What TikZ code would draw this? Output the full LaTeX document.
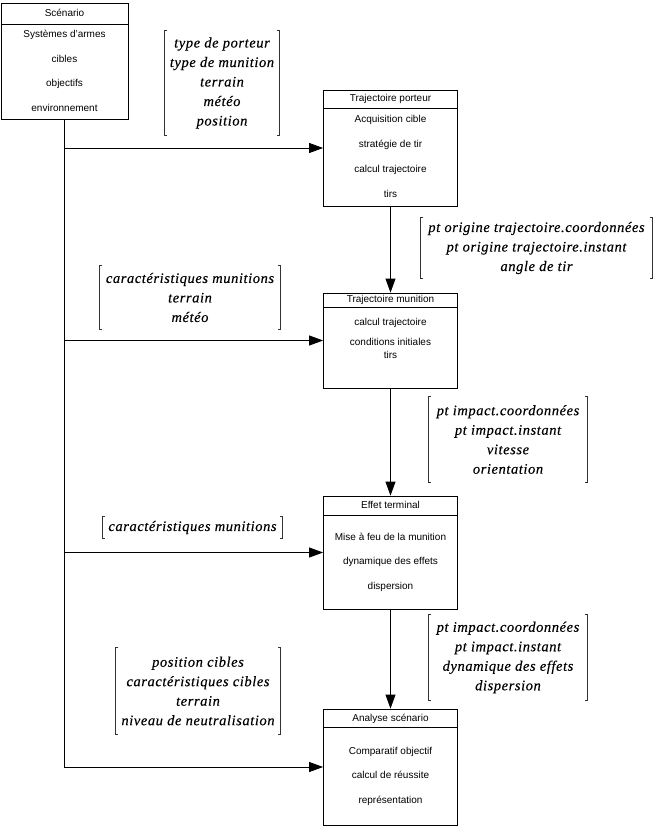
\documentclass[tikz,border=0pt]{standalone}
\usepackage{fontspec}
\setmainfont{Liberation Serif}
\setsansfont{Liberation Sans}
\newfontfamily\labfont[LetterSpace=4, FakeBold=0.3]{Liberation Serif}
\usetikzlibrary{arrows.meta}
\tikzset{
  box/.style={draw=black, line width=0.8pt, rectangle, inner sep=0pt},
  itm/.style={font=\sffamily\fontsize{10}{12}\selectfont, inner sep=0pt, text height=7.5pt, text depth=2pt},
  lab/.style={font=\labfont\itshape\fontsize{14.5}{19.5}\selectfont, align=center, inner sep=0pt},
  bline/.style={line width=0.8pt, black!80},
  conn/.style={line width=0.8pt, -{Triangle[length=14pt,width=10pt]}},
  plain/.style={line width=0.8pt}
}
\newcommand\lbrk[1]{%
  \draw[bline] ([xshift=2.5pt]#1.north west) -- (#1.north west) -- (#1.south west) -- ([xshift=2.5pt]#1.south west);
  \draw[bline] ([xshift=-2.5pt]#1.north east) -- (#1.north east) -- (#1.south east) -- ([xshift=-2.5pt]#1.south east);}
\newcommand\sepline[2]{%
  \draw[plain] ([yshift=-#2pt]#1.north west) -- ([yshift=-#2pt]#1.north east);}
\begin{document}
\begin{tikzpicture}[x=1pt,y=-1pt]
\useasboundingbox (0,0) rectangle (657,826);

% Scenario
\node[box, minimum width=127pt, minimum height=116pt] (scen) at (64.5,61) {};
\sepline{scen}{22}
\node[itm] (scenT) at (64.5,14) {Scénario};
\node[itm] (s1) at (64.5,35) {Systèmes d'armes};
\node[itm] (s2) at (64.5,60) {cibles};
\node[itm] (s3) at (64.5,84) {objectifs};
\node[itm] (s4) at (64.5,109) {environnement};

% Trajectoire porteur
\node[box, minimum width=134pt, minimum height=116pt] (tp) at (390.5,148) {};
\sepline{tp}{19}
\node[itm] (tpT) at (390.5,99) {Trajectoire porteur};
\node[itm] (tp1) at (390.5,120) {Acquisition cible};
\node[itm] (tp2) at (390.5,145) {stratégie de tir};
\node[itm] (tp3) at (390.5,170) {calcul trajectoire};
\node[itm] (tp4) at (390.5,195) {tirs};

% Trajectoire munition
\node[box, minimum width=134pt, minimum height=95pt] (tm) at (390.5,340.5) {};
\sepline{tm}{15}
\node[itm] (tmT) at (390.5,300) {Trajectoire munition};
\node[itm] (tm1) at (390.5,323) {calcul trajectoire};
\node[itm] (tm2) at (390.5,343) {conditions initiales};
\node[itm] (tm3) at (390.5,356) {tirs};

% Effet terminal
\node[box, minimum width=134pt, minimum height=113pt] (et) at (390.5,552.5) {};
\sepline{et}{20}
\node[itm] (etT) at (390.5,506) {Effet terminal};
\node[itm] (et1) at (390.5,538) {Mise à feu de la munition};
\node[itm] (et2) at (390.5,562) {dynamique des effets};
\node[itm] (et3) at (390.5,587) {dispersion};

% Analyse scenario
\node[box, minimum width=134pt, minimum height=116pt] (an) at (390.5,767) {};
\sepline{an}{19}
\node[itm] (anT) at (390.5,719) {Analyse scénario};
\node[itm] (an1) at (390.5,752) {Comparatif objectif};
\node[itm] (an2) at (390.5,776) {calcul de réussite};
\node[itm] (an3) at (390.5,801) {représentation};

% Labels
\node[lab, minimum width=114pt, minimum height=104pt] (l1) at (222,83)
  {type de porteur\\type de munition\\terrain\\météo\\position};
\lbrk{l1}
\node[lab, minimum width=231pt, minimum height=60pt] (l2) at (536.5,248)
  {pt origine trajectoire.coordonnées\\pt origine trajectoire.instant\\angle de tir};
\lbrk{l2}
\node[lab, minimum width=180pt, minimum height=63pt] (l3) at (190,297.5)
  {caractéristiques munitions\\terrain\\météo};
\lbrk{l3}
\node[lab, minimum width=158pt, minimum height=85pt] (l4) at (508,439.5)
  {pt impact.coordonnées\\pt impact.instant\\vitesse\\orientation};
\lbrk{l4}
\node[lab, minimum width=179pt, minimum height=21pt] (l5) at (192.5,527.5)
  {caractéristiques munitions};
\lbrk{l5}
\node[lab, minimum width=158pt, minimum height=85pt] (l6) at (508,657.5)
  {pt impact.coordonnées\\pt impact.instant\\dynamique des effets\\dispersion};
\lbrk{l6}
\node[lab, minimum width=164pt, minimum height=86pt] (l7) at (198,691)
  {position cibles\\caractéristiques cibles\\terrain\\niveau de neutralisation};
\lbrk{l7}

% Connectors
\draw[conn] (scen.south) |- (an.west);
\draw[conn] (scen.south |- tp.west) -- (tp.west);
\draw[conn] (scen.south |- tm.west) -- (tm.west);
\draw[conn] (scen.south |- et.west) -- (et.west);
\draw[conn] (tp.south) -- (tm.north);
\draw[conn] (tm.south) -- (et.north);
\draw[conn] (et.south) -- (an.north);
\end{tikzpicture}
\end{document}
